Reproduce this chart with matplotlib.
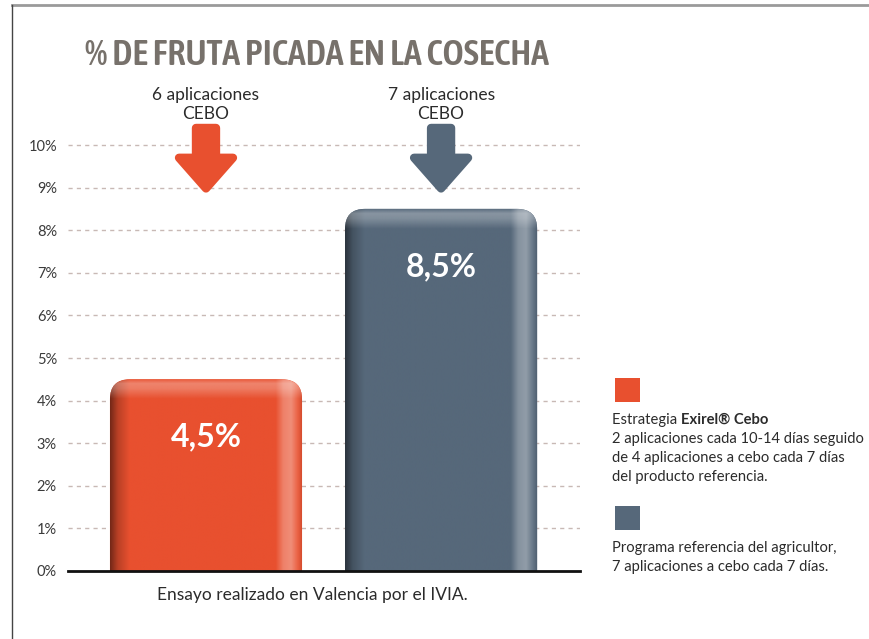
import numpy as np
import matplotlib
matplotlib.use("Agg")
import matplotlib.pyplot as plt
from matplotlib.patches import FancyBboxPatch, FancyArrow, Rectangle
from matplotlib.lines import Line2D
from matplotlib.colors import to_rgb
from matplotlib import font_manager as fm

# ---- data ----
categories = ["Estrategia Exirel Cebo", "Programa referencia del agricultor"]
values = [4.5, 8.5]
value_labels = ["4,5%", "8,5%"]
arrow_labels = ["6 aplicaciones\nCEBO", "7 aplicaciones\nCEBO"]
yticks = [0, 1, 2, 3, 4, 5, 6, 7, 8, 9, 10]
ytick_labels = [f"{v}%" for v in yticks]
title = "% DE FRUTA PICADA EN LA COSECHA"
footer = "Ensayo realizado en Valencia por el IVIA."

ORANGE = "#e8502f"
GRAY = "#56687a"
colors = [ORANGE, GRAY]

BODY = "Lato" if any(f.name == "Lato" for f in fm.fontManager.ttflist) else "DejaVu Sans"
# pick a condensed family with a semibold/bold face
TITLEF, TITLEW = BODY, "bold"
cands = {}
for f in fm.fontManager.ttflist:
    if ("Condensed" in f.name or "Narrow" in f.name) or f.stretch in ("condensed", "semi-condensed", "extra-condensed"):
        w = f.weight if isinstance(f.weight, int) else 400
        cands.setdefault(f.name, set()).add(w)
best = None
for name, ws in cands.items():
    for w in ws:
        if 550 <= w <= 750:
            score = abs(w - 600)
            if best is None or score < best[2]:
                best = (name, w, score)
if best is not None:
    TITLEF, TITLEW = best[0], best[1]

W, H = 870, 639
fig = plt.figure(figsize=(W / 100, H / 100), dpi=100)

x0, x1 = 68, 580
y0 = 571
px_per_unit = 42.6
ytop = 11.5
ax = fig.add_axes([x0 / W, (H - y0) / H, (x1 - x0) / W, ytop * px_per_unit / H])
xs = np.arange(len(values))
ax.set_xlim(-0.587, 1.591)
ax.set_ylim(0, ytop)
ax.set_yticks(yticks)
ax.set_yticklabels(ytick_labels, fontsize=10.5, color="#3a3a3a", family=BODY)
ax.tick_params(axis="y", length=0, pad=8)
ax.set_xticks([])
for s in ["top", "right", "left"]:
    ax.spines[s].set_visible(False)
ax.spines["bottom"].set_linewidth(2)
ax.spines["bottom"].set_color("#111111")
ax.spines["bottom"].set_zorder(10)
for v in yticks[1:]:
    ax.axhline(v, color="#c8b9b5", lw=1.0, ls=(0, (3, 3)), zorder=0)

bw = 0.817
xunit_px = (x1 - x0) / (1.591 + 0.587)
aspect = xunit_px / px_per_unit
rnd = 20 / xunit_px


def shade(base, stops):
    b = np.array(to_rgb(base))
    out = []
    for pos, f in stops:
        if f < 0:
            c = b * (1 + f)
        else:
            c = b + (1 - b) * f
        out.append((pos, c))
    return out


def draw_bar(xc, h, color):
    patch = FancyBboxPatch((xc - bw / 2, -1), bw, h + 1,
                           boxstyle=f"round,pad=0,rounding_size={rnd}",
                           mutation_aspect=aspect, fc=color, ec="none", zorder=2)
    ax.add_patch(patch)
    stops = shade(color, [(0.0, -0.5), (0.04, -0.2), (0.1, 0.0), (0.86, 0.0),
                          (0.9, 0.28), (0.94, 0.35), (0.975, 0.1), (1.0, -0.1)])
    n = 300
    t = np.linspace(0, 1, n)
    img = np.zeros((1, n, 3))
    pos = [s[0] for s in stops]
    for k in range(3):
        img[0, :, k] = np.interp(t, pos, [s[1][k] for s in stops])
    im = ax.imshow(img, extent=(xc - bw / 2, xc + bw / 2, 0, h), aspect="auto",
                   zorder=3, interpolation="bilinear")
    im.set_clip_path(patch)
    m = 100
    tv = np.linspace(0, 1, m)
    alpha = np.interp(tv, [0, 0.6, 0.8, 0.9, 1.0], [0, 0, 0.25, 0.3, 0.0])
    hl = np.zeros((m, 1, 4))
    hl[:, 0, :3] = 1.0
    hl[:, 0, 3] = alpha[::-1]
    top_h = 1.2
    im2 = ax.imshow(hl, extent=(xc - bw / 2, xc + bw / 2, h - top_h, h), aspect="auto",
                    zorder=4, interpolation="bilinear", origin="upper")
    im2.set_clip_path(patch)


for xi, v, c, lab in zip(xs, values, colors, value_labels):
    draw_bar(xi, v, c)
    ax.text(xi, v - 1.35, lab, ha="center", va="center", color="white",
            fontsize=23, fontweight="bold", family=BODY, zorder=6)

shaft_w = 20 / xunit_px
head_w = 54 / xunit_px
head_l = 0.72
a_top, a_tip = 10.4, 8.98
for xi, c, lab in zip(xs, colors, arrow_labels):
    arr = FancyArrow(xi, a_top, 0, a_tip - a_top, width=shaft_w, head_width=head_w,
                     head_length=head_l, length_includes_head=True, fc=c, ec=c,
                     lw=6, joinstyle="round", capstyle="round", zorder=5, clip_on=False)
    ax.add_patch(arr)
    ax.text(xi, 10.95, lab, ha="center", va="center", fontsize=12.5, color="#2b2b2b",
            family=BODY, linespacing=1.2, clip_on=False)

tt = fig.text(317 / W, 1 - 55 / H, title, ha="center", va="center", fontsize=22,
              fontweight=TITLEW, color="#77716b", family=TITLEF)
fig.canvas.draw()
tw = tt.get_window_extent().width
if tw > 0:
    tt.set_fontsize(22 * 463 / tw)

fig.text(312 / W, 1 - 595 / H, footer, ha="center", va="center", fontsize=12.5,
         color="#2b2b2b", family=BODY)

fig.patches.append(Rectangle((615 / W, 1 - 402 / H), 25 / W, 24 / H, transform=fig.transFigure,
                             fc=colors[0], ec="none"))
fig.patches.append(Rectangle((615 / W, 1 - 530 / H), 25 / W, 24 / H, transform=fig.transFigure,
                             fc=colors[1], ec="none"))
lw_y = 19
LF = 10.6
t1 = fig.text(612 / W, 1 - 420 / H, "Estrategia ", ha="left", va="center", fontsize=LF,
              color="#2b2b2b", family=BODY)
fig.canvas.draw()
bb = t1.get_window_extent()
fig.text(bb.x1 / W, 1 - 420 / H, "Exirel\u00ae Cebo", ha="left", va="center", fontsize=LF,
         color="#2b2b2b", family=BODY, fontweight="bold")
lines1 = ["2 aplicaciones cada 10-14 días seguido",
          "de 4 aplicaciones a cebo cada 7 días",
          "del producto referencia."]
for i, ln in enumerate(lines1):
    fig.text(612 / W, 1 - (420 + lw_y * (i + 1)) / H, ln, ha="left", va="center",
             fontsize=LF, color="#2b2b2b", family=BODY)
lines2 = ["Programa referencia del agricultor,", "7 aplicaciones a cebo cada 7 días."]
for i, ln in enumerate(lines2):
    fig.text(612 / W, 1 - (548 + lw_y * i) / H, ln, ha="left", va="center",
             fontsize=LF, color="#2b2b2b", family=BODY)

fig.add_artist(Line2D([12 / W, 1], [1 - 5 / H, 1 - 5 / H], transform=fig.transFigure,
                      color="#9a9a9a", lw=2))
fig.add_artist(Line2D([12 / W, 12 / W], [0, 1 - 5 / H], transform=fig.transFigure,
                      color="#444444", lw=1))

fig.savefig("out.png", dpi=100)
